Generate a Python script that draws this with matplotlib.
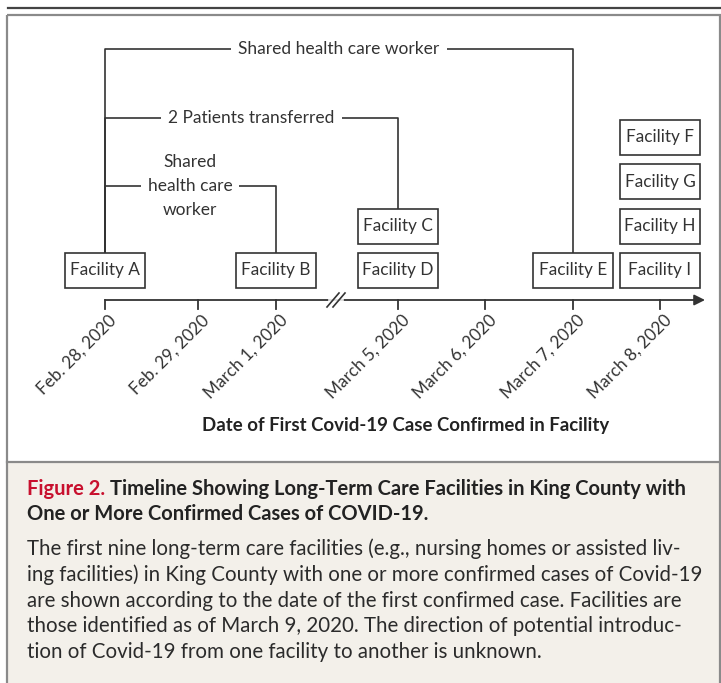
import matplotlib
matplotlib.use("Agg")
import matplotlib.pyplot as plt
from matplotlib import font_manager
from matplotlib.patches import Rectangle, FancyArrowPatch

#picking a narrow font if there is one, NEJM figures use a condensed face
names = {f.name for f in font_manager.fontManager.ttflist}
FONT = "Liberation Sans Narrow" if "Liberation Sans Narrow" in names else "Lato"
plt.rcParams["font.family"] = [FONT, "DejaVu Sans"]

# data
dates = ["Feb. 28, 2020", "Feb. 29, 2020", "March 1, 2020", "March 5, 2020",
         "March 6, 2020", "March 7, 2020", "March 8, 2020"]
facilities = ["Facility A", "Facility B", "Facility C", "Facility D", "Facility E",
              "Facility F", "Facility G", "Facility H", "Facility I"]
facility_dates = ["Feb. 28, 2020", "March 1, 2020", "March 5, 2020", "March 5, 2020",
                  "March 7, 2020", "March 8, 2020", "March 8, 2020", "March 8, 2020",
                  "March 8, 2020"]
stack_level = [0, 0, 1, 0, 0, 3, 2, 1, 0]
links = [("Facility A", "Facility E", "Shared health care worker"),
         ("Facility A", "Facility C", "2 Patients transferred"),
         ("Facility A", "Facility B", "Shared\nhealth care\nworker")]

axis_title = "Date of First Covid-19 Case Confirmed in Facility"
fig_label = "Figure 2."
fig_title = ("Timeline Showing Long-Term Care Facilities in King County with",
             "One or More Confirmed Cases of COVID-19.")
caption = ["The first nine long-term care facilities (e.g., nursing homes or assisted liv-",
           "ing facilities) in King County with one or more confirmed cases of Covid-19",
           "are shown according to the date of the first confirmed case. Facilities are",
           "those identified as of March 9, 2020. The direction of potential introduc-",
           "tion of Covid-19 from one facility to another is unknown."]

# layout (pixels)
W, H = 721, 683
tick_x = [105, 198, 276, 398, 485, 573, 660]
axis_y = 300
box_w, box_h = 80, 35
row_y = [270.5, 226, 181.5, 137]
link_y = [49, 118, 186]
ink = "#333333"

fig = plt.figure(figsize=(W / 100, H / 100), dpi=100)
ax = fig.add_axes([0, 0, 1, 1])
ax.set_xlim(0, W)
ax.set_ylim(H, 0)
ax.axis("off")

#frame: top rule, panel border and the beige caption area
ax.plot([8, W], [8, 8], color="#444444", lw=1.6)
ax.add_patch(Rectangle((7, 462), W - 8, H - 462, facecolor="#f3f0ea", edgecolor="none"))
ax.add_patch(Rectangle((7, 15), W - 8, H - 10, facecolor="none", edgecolor="#8a8a8a", lw=1.6))
ax.plot([7, W - 1], [462, 462], color="#8a8a8a", lw=1.6)

#timeline axis with arrow
ax.add_patch(FancyArrowPatch((tick_x[0], axis_y), (705, axis_y), arrowstyle="-|>",
                             mutation_scale=16, color=ink, lw=1.3, shrinkA=0, shrinkB=0))
for x, lab in zip(tick_x, dates):
    ax.plot([x, x], [axis_y, axis_y + 9], color=ink, lw=1.3)
    ax.text(x + 3, axis_y + 12, lab, rotation=45, ha="right", va="top",
            rotation_mode="anchor", fontsize=12.3, color=ink)

#break mark between March 1 and March 5
for dx in (0, 6):
    ax.plot([327 + dx, 339 + dx], [307, 293], color=ink, lw=1.2)
ax.plot([329, 343], [axis_y, axis_y], color="white", lw=1.2, zorder=1)

ax.text(406, 425, axis_title, ha="center", va="center", fontsize=13.4,
        fontweight="bold", color="#222222")

#facility boxes
centers = {}
for name, d, lvl in zip(facilities, facility_dates, stack_level):
    cx = tick_x[dates.index(d)]
    cy = row_y[lvl]
    centers[name] = (cx, cy)
    ax.add_patch(Rectangle((cx - box_w / 2, cy - box_h / 2), box_w, box_h,
                           facecolor="white", edgecolor=ink, lw=1.2, zorder=3))
    ax.text(cx, cy, name, ha="center", va="center", fontsize=12.4, color=ink, zorder=4)

#connector lines between facilities
for (src, dst, lab), ly in zip(links, link_y):
    x0, y0 = centers[src]
    x1, y1 = centers[dst]
    ax.plot([x0, x0, x1, x1], [y0 - box_h / 2, ly, ly, y1 - box_h / 2],
            color=ink, lw=1.2, zorder=2)
    tx = (x0 + x1) / 2 if "\n" not in lab else 190
    ax.text(tx, ly, lab, ha="center", va="center", fontsize=12.5, color=ink,
            linespacing=1.6, zorder=3,
            bbox=dict(facecolor="white", edgecolor="none", pad=5))

#caption
t = ax.text(27, 489, fig_label + " ", ha="left", va="center", fontsize=14.5,
            fontweight="bold", color="#c8102e")
fig.canvas.draw()
bb = t.get_window_extent()
ax.text(bb.x1, 489, fig_title[0], ha="left", va="center", fontsize=14.5,
        fontweight="bold", color="#222222")
ax.text(27, 514, fig_title[1], ha="left", va="center", fontsize=14.5,
        fontweight="bold", color="#222222")
for i, line in enumerate(caption):
    ax.text(27, 549 + i * 25.8, line, ha="left", va="center", fontsize=14.8,
            color="#2b2b2b")

fig.savefig("out.png", dpi=100)
